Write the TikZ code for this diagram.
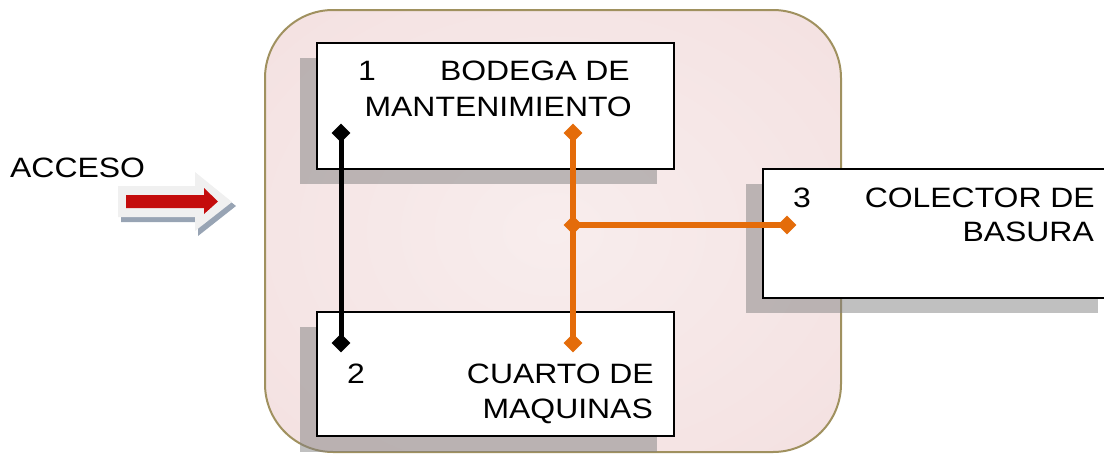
\documentclass[tikz,border=0pt]{standalone}
\usepackage{fontspec}
\setmainfont{Liberation Sans}[FakeStretch=1.14]
\usetikzlibrary{shapes.geometric}
\definecolor{pinkout}{RGB}{242,220,220}
\definecolor{pinkin}{RGB}{248,237,237}
\definecolor{olive}{RGB}{160,145,95}
\definecolor{shadowgray}{RGB}{129,129,129}
\definecolor{orangeline}{RGB}{228,108,10}
\definecolor{redarrow}{RGB}{196,12,12}
\definecolor{arrowlight}{RGB}{240,240,240}
\definecolor{arrowshadow}{RGB}{152,164,180}
\pgfdeclareradialshading{pinkrad}{\pgfpoint{0bp}{0bp}}{color(0bp)=(pinkin); color(50bp)=(pinkout); color(100bp)=(pinkout)}
\tikzset{
  boxnode/.style={draw=black, line width=1.8pt, fill=white, anchor=north west, inner sep=0pt},
  shadowbox/.style={fill=shadowgray, fill opacity=0.5, draw=none},
  txt/.style={inner sep=0pt, font=\fontsize{28}{34}\selectfont},
  dmd/.style={shape=diamond, fill=#1, draw=none, inner sep=0pt, minimum width=19pt, minimum height=19pt},
  blkline/.style={draw=black, line width=5pt},
  orgline/.style={draw=orangeline, line width=5.5pt}
}
\begin{document}
\begin{tikzpicture}[x=1pt, y=-1pt]
\clip (0,0) rectangle (1104,453);
% main rounded area
\shade[shading=pinkrad, draw=olive, line width=2pt, rounded corners=68pt] (265,10) rectangle (841,452);
% access arrow
\fill[arrowshadow] (121,190) -- (198,190) -- (198,176) -- (236,206) -- (198,236) -- (198,222) -- (121,222) -- cycle;
\fill[arrowlight] (118,186) -- (195,186) -- (195,172) -- (232,202) -- (195,231) -- (195,217) -- (118,217) -- cycle;
\fill[redarrow] (126,195) -- (204,195) -- (204,188) -- (218,201.5) -- (204,214) -- (204,208) -- (126,208) -- cycle;
\node[txt, anchor=base west] (acc) at (10,177) {ACCESO};
% shadows
\fill[shadowbox] (300,58) rectangle (657,184);
\fill[shadowbox] (300,327) rectangle (657,452);
\fill[shadowbox] (746,184) rectangle (1098,313);
% boxes
\node[boxnode, minimum width=357pt, minimum height=126pt] (b1) at (316,42) {};
\node[boxnode, minimum width=357pt, minimum height=124pt] (b2) at (316,311) {};
\node[boxnode, minimum width=352pt, minimum height=129pt] (b3) at (762,168) {};
% texts
\node[txt, anchor=base west] (n1) at (358,80.5) {1};
\node[txt, anchor=base east] (t1a) at (630,80.5) {BODEGA DE};
\node[txt, anchor=base east] (t1b) at (632,116) {MANTENIMIENTO};
\node[txt, anchor=base west] (n2) at (347,383.5) {2};
\node[txt, anchor=base east] (t2a) at (654,383.5) {CUARTO DE};
\node[txt, anchor=base east] (t2b) at (653,418) {MAQUINAS};
\node[txt, anchor=base west] (n3) at (793,207) {3};
\node[txt, anchor=base east] (t3a) at (1095,207) {COLECTOR DE};
\node[txt, anchor=base east] (t3b) at (1094,241.5) {BASURA};
% connectors
\node[dmd=black] (k1) at (341,133) {};
\node[dmd=black] (k2) at (341,343) {};
\node[dmd=orangeline] (o1) at (573,133) {};
\node[dmd=orangeline] (o2) at (573,343) {};
\node[dmd=orangeline] (oj) at (573,225) {};
\node[dmd=orangeline] (o3) at (787,225) {};
\draw[blkline] (k1.center) -- (k2.center);
\draw[orgline] (o1.center) -- (o2.center);
\draw[orgline] (oj.center) -- (o3.center);
\end{tikzpicture}
\end{document}
